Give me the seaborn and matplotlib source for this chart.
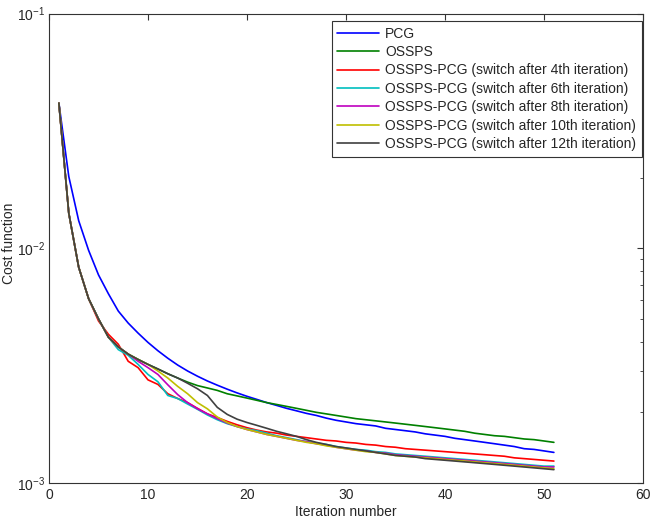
import matplotlib
matplotlib.use('Agg')
import pandas as pd
import matplotlib.pyplot as plt
import seaborn as sns
from matplotlib.ticker import NullLocator

# iterations 1..51
iterations = list(range(1, 52))

pcg = [0.0415, 0.0202, 0.0131, 0.0098, 0.0077, 0.0064, 0.0054, 0.0048, 0.00435, 0.00397,
       0.00366, 0.0034, 0.00318, 0.003, 0.00285, 0.00272, 0.00261, 0.00251, 0.00242, 0.00234,
       0.00227, 0.0022, 0.00214, 0.00208, 0.00203, 0.00198, 0.00194, 0.00189, 0.00185, 0.00182,
       0.00179, 0.00177, 0.00175, 0.00171, 0.00169, 0.00167, 0.00165, 0.00162, 0.0016, 0.00158,
       0.00155, 0.00153, 0.00151, 0.00149, 0.00147, 0.00145, 0.00143, 0.0014, 0.00139, 0.00137,
       0.00135]

ossps = [0.0415, 0.0141, 0.0083, 0.0061, 0.0050, 0.00418, 0.0038, 0.00354, 0.00336, 0.0032,
         0.00306, 0.00292, 0.0028, 0.00269, 0.0026, 0.00254, 0.00248, 0.0024, 0.00235, 0.0023,
         0.00225, 0.0022, 0.00216, 0.00212, 0.00208, 0.00204, 0.002, 0.00197, 0.00194, 0.00191,
         0.00188, 0.00186, 0.00184, 0.00182, 0.0018, 0.00178, 0.00176, 0.00174, 0.00172, 0.0017,
         0.00168, 0.00166, 0.00163, 0.00161, 0.00159, 0.00158, 0.00156, 0.00154, 0.00153, 0.00151,
         0.00149]

# hybrid runs: OSSPS up to the switch, then PCG
red_tail = [0.0049, 0.0043, 0.0039, 0.0033, 0.0031, 0.00275, 0.00263, 0.0024, 0.00229, 0.0022,
            0.00208, 0.00197, 0.0019, 0.00183, 0.00177, 0.00172, 0.00168, 0.00165, 0.00163, 0.0016,
            0.00158, 0.00156, 0.00154, 0.00152, 0.00151, 0.00149, 0.00148, 0.00146, 0.00145, 0.00143,
            0.00142, 0.0014, 0.00139, 0.00138, 0.00137, 0.00136, 0.00135, 0.00134, 0.00133, 0.00132,
            0.00131, 0.0013, 0.00128, 0.00127, 0.00126, 0.00125, 0.00124]
cyan_tail = [0.0037, 0.0035, 0.0032, 0.0029, 0.0027, 0.00236, 0.00229, 0.00217, 0.00206, 0.00195,
             0.00186, 0.00179, 0.00174, 0.0017, 0.00167, 0.00163, 0.00159, 0.00156, 0.00153, 0.0015,
             0.00148, 0.00146, 0.00143, 0.00141, 0.00139, 0.00138, 0.00136, 0.00135, 0.00133, 0.00132,
             0.00131, 0.0013, 0.00129, 0.00128, 0.00127, 0.00126, 0.00125, 0.00124, 0.00123, 0.00122,
             0.00121, 0.0012, 0.00119, 0.00118, 0.00118]
magenta_tail = [0.0033, 0.0031, 0.0029, 0.00262, 0.00238, 0.0022, 0.00207, 0.00197, 0.00188, 0.0018,
                0.00174, 0.00169, 0.00165, 0.00161, 0.00158, 0.00155, 0.00152, 0.0015, 0.00147, 0.00145,
                0.00142, 0.0014, 0.00138, 0.00137, 0.00135, 0.00134, 0.00132, 0.00131, 0.0013, 0.00129,
                0.00128, 0.00127, 0.00126, 0.00125, 0.00124, 0.00123, 0.00122, 0.00121, 0.0012, 0.00119,
                0.00118, 0.00117, 0.00117]
yellow_tail = [0.0030, 0.0028, 0.00258, 0.0024, 0.0022, 0.00207, 0.00191, 0.00181, 0.00174, 0.00169,
               0.00165, 0.00161, 0.00158, 0.00155, 0.00152, 0.00149, 0.00147, 0.00144, 0.00142, 0.0014,
               0.00138, 0.00136, 0.00135, 0.00133, 0.00131, 0.0013, 0.00129, 0.00128, 0.00127, 0.00126,
               0.00125, 0.00124, 0.00123, 0.00122, 0.00121, 0.0012, 0.00119, 0.00118, 0.00117, 0.00116,
               0.00115]
black_tail = [0.0028, 0.00266, 0.00252, 0.00236, 0.0021, 0.00196, 0.00187, 0.00181, 0.00176, 0.00171,
              0.00166, 0.00162, 0.00158, 0.00153, 0.00149, 0.00146, 0.00143, 0.00141, 0.00139, 0.00137,
              0.00135, 0.00133, 0.00131, 0.0013, 0.00129, 0.00127, 0.00126, 0.00125, 0.00124, 0.00123,
              0.00122, 0.00121, 0.0012, 0.00119, 0.00118, 0.00117, 0.00116, 0.00115, 0.00114]

switch_after = [4, 6, 8, 10, 12]
tails = [red_tail, cyan_tail, magenta_tail, yellow_tail, black_tail]

labels = ['PCG', 'OSSPS',
          'OSSPS-PCG (switch after 4th iteration)',
          'OSSPS-PCG (switch after 6th iteration)',
          'OSSPS-PCG (switch after 8th iteration)',
          'OSSPS-PCG (switch after 10th iteration)',
          'OSSPS-PCG (switch after 12th iteration)']
colors = ['#0000ff', '#008000', '#ff0000', '#00bfbf', '#bf00bf', '#bfbf00', '#404040']


def main():
    series = [pcg, ossps] + [ossps[:k] + t for k, t in zip(switch_after, tails)]
    frames = []
    for name, vals in zip(labels, series):
        frames.append(pd.DataFrame({'iter': iterations, 'cost': vals, 'method': name}))
    df = pd.concat(frames, ignore_index=True)

    sns.set_style('white')
    plt.rcParams['font.family'] = ['Liberation Sans', 'DejaVu Sans']
    plt.rcParams['mathtext.default'] = 'regular'

    fig = plt.figure(figsize=(6.54, 5.2), dpi=100)
    ax = fig.add_axes([49 / 654, 1 - 483 / 520, 594 / 654, 469.5 / 520])

    sns.lineplot(data=df, x='iter', y='cost', hue='method', hue_order=labels,
                 palette=colors, linewidth=1.2, errorbar=None, ax=ax)

    ax.set_yscale('log')
    ax.set_ylim(1e-3, 1e-1)
    ax.set_xlim(0, 60)
    ax.set_xticks(range(0, 61, 10))
    ax.xaxis.set_minor_locator(NullLocator())
    ax.set_xlabel('Iteration number', fontsize=10, labelpad=2)
    ax.set_ylabel('Cost function', fontsize=10)
    # right edge of the rotated label sits ~15 px from the figure edge
    ax.yaxis.set_label_coords(-0.056, 0.51)
    ax.tick_params(which='both', direction='in', top=True, right=True,
                   labelsize=10, color='#333333')
    ax.tick_params(which='major', length=4)
    ax.tick_params(which='minor', length=2.5)
    ax.tick_params(axis='y', pad=3)
    for s in ax.spines.values():
        s.set_color('#333333')
        s.set_linewidth(0.8)

    handles, _ = ax.get_legend_handles_labels()
    leg = ax.legend(handles, labels, loc='upper right', bbox_to_anchor=(0.998, 0.984),
                    borderaxespad=0, fancybox=False, framealpha=1, edgecolor='#333333',
                    handlelength=3.0, handletextpad=0.45, labelspacing=0.32,
                    borderpad=0.4, fontsize=10)
    leg.get_frame().set_linewidth(0.8)

    fig.savefig('out.png', dpi=100)


if __name__ == '__main__':
    main()
